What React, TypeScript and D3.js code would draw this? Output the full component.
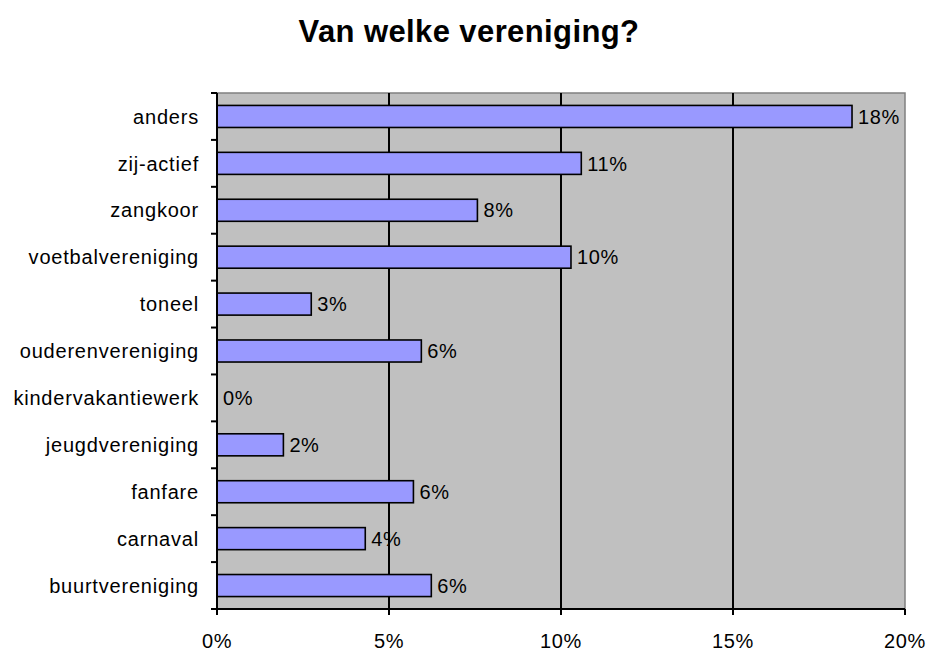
import * as d3 from 'd3';

const categories = [
  'anders',
  'zij-actief',
  'zangkoor',
  'voetbalvereniging',
  'toneel',
  'ouderenvereniging',
  'kindervakantiewerk',
  'jeugdvereniging',
  'fanfare',
  'carnaval',
  'buurtvereniging',
];

// share of respondents, in percent
const values = [18.46, 10.59, 7.57, 10.29, 2.74, 5.94, 0, 1.93, 5.71, 4.31, 6.23];

const xTicks = [0, 5, 10, 15, 20];

const title = 'Van welke vereniging?';

const W = 926;
const H = 651;
const margin = { top: 93, right: 21, bottom: 42, left: 217 };
const font = '"Liberation Sans", Arial, sans-serif';

export default function App() {
  const innerW = W - margin.left - margin.right;
  const innerH = H - margin.top - margin.bottom;

  const x = d3.scaleLinear().domain([0, 20]).range([0, innerW]);
  const y = d3
    .scaleBand<string>()
    .domain(categories)
    .range([0, innerH])
    .paddingInner(0.53)
    .paddingOuter(0.265);

  const step = y.step();
  const bandEdges = d3.range(categories.length + 1).map((i) => i * step);

  return (
    <div style={{ position: 'absolute', left: 0, top: 0 }}>
      <svg width={W} height={H} style={{ display: 'block', background: '#fff' }}>
        <text
          x={469}
          y={42}
          textAnchor="middle"
          fontFamily={font}
          fontWeight="bold"
          fontSize={31}
          letterSpacing={0.4}
          fill="#000"
        >
          {title}
        </text>

        <g transform={`translate(${margin.left},${margin.top})`}>
          <rect x={0} y={0} width={innerW} height={innerH} fill="#c0c0c0" stroke="#808080" strokeWidth={1.5} />

          {xTicks.slice(1, -1).map((t) => (
            <line key={t} x1={x(t)} x2={x(t)} y1={0} y2={innerH} stroke="#000" strokeWidth={2} />
          ))}

          {categories.map((c, i) => (
            <g key={c}>
              {values[i] > 0 && (
                <rect
                  x={0}
                  y={y(c)}
                  width={x(values[i])}
                  height={y.bandwidth()}
                  fill="#9999ff"
                  stroke="#000"
                  strokeWidth={1.6}
                />
              )}
              <text
                x={x(values[i]) + 6}
                y={(y(c) ?? 0) + y.bandwidth() / 2}
                dy="0.36em"
                fontFamily={font}
                fontSize={20}
                letterSpacing={0.6}
                fill="#000"
              >
                {`${Math.round(values[i])}%`}
              </text>
              <text
                x={-18}
                y={(y(c) ?? 0) + y.bandwidth() / 2}
                dy="0.36em"
                textAnchor="end"
                fontFamily={font}
                fontSize={20}
                letterSpacing={0.8}
                fill="#000"
              >
                {c}
              </text>
            </g>
          ))}

          {/* left axis */}
          <line x1={0} x2={0} y1={0} y2={innerH + 5} stroke="#000" strokeWidth={2} />
          {bandEdges.map((e, i) => (
            <line key={i} x1={-6} x2={0} y1={e} y2={e} stroke="#000" strokeWidth={2} />
          ))}

          {/* bottom axis */}
          <line x1={-6} x2={innerW} y1={innerH} y2={innerH} stroke="#000" strokeWidth={2} />
          {xTicks.map((t) => (
            <g key={t}>
              <line x1={x(t)} x2={x(t)} y1={innerH} y2={innerH + 6} stroke="#000" strokeWidth={2} />
              <text
                x={x(t)}
                y={innerH + 39}
                textAnchor="middle"
                fontFamily={font}
                fontSize={20}
                letterSpacing={0.6}
                fill="#000"
              >
                {`${t}%`}
              </text>
            </g>
          ))}
        </g>
      </svg>
    </div>
  );
}
